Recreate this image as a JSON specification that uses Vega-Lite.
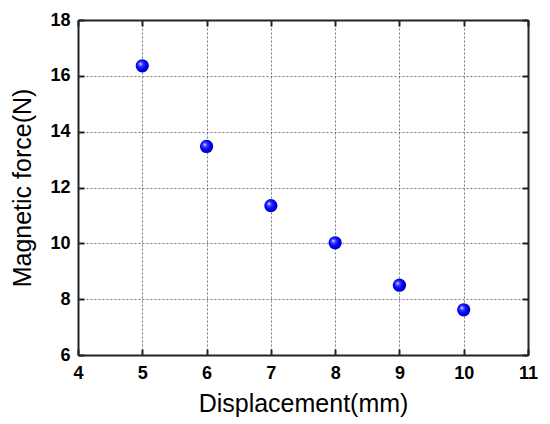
{
  "$schema": "https://vega.github.io/schema/vega-lite/v6.json",
  "width": 450,
  "height": 335,
  "autosize": {"type": "none"},
  "padding": {"left": 78, "top": 20, "right": 22, "bottom": 69},
  "background": "white",
  "config": {
    "view": {"stroke": null},
    "font": "Liberation Sans",
    "axis": {
      "labelFont": "Liberation Sans",
      "labelFontSize": 18,
      "labelFontWeight": "bold",
      "labelColor": "black",
      "titleFont": "Liberation Sans",
      "titleFontWeight": "normal",
      "titleColor": "black",
      "domainColor": "#222222",
      "domainWidth": 2,
      "tickColor": "#222222",
      "tickWidth": 2,
      "tickSize": -6,
      "gridColor": "#777777",
      "gridDash": [2, 2],
      "gridWidth": 1,
      "labelFlush": false
    }
  },
  "data": {
    "values": [
      {"displacement": 5, "force": 16.36},
      {"displacement": 6, "force": 13.47},
      {"displacement": 7, "force": 11.35},
      {"displacement": 8, "force": 10.02},
      {"displacement": 9, "force": 8.5},
      {"displacement": 10, "force": 7.62}
    ]
  },
  "layer": [
    {
      "mark": {
        "type": "point",
        "filled": true,
        "shape": "circle",
        "size": 175,
        "opacity": 1,
        "color": {
          "gradient": "radial",
          "x1": 0.35, "y1": 0.35, "r1": 0,
          "x2": 0.45, "y2": 0.45, "r2": 0.6,
          "stops": [
            {"offset": 0, "color": "#ffffff"},
            {"offset": 0.25, "color": "#4040ff"},
            {"offset": 0.6, "color": "#0000ff"},
            {"offset": 1, "color": "#0000a0"}
          ]
        }
      },
      "encoding": {
        "x": {
          "field": "displacement",
          "type": "quantitative",
          "scale": {"domain": [4, 11], "nice": false, "zero": false},
          "axis": {
            "title": "Displacement(mm)",
            "values": [4, 5, 6, 7, 8, 9, 10, 11],
            "grid": true,
            "labelPadding": 15,
            "titleFontSize": 25,
            "titlePadding": 9
          }
        },
        "y": {
          "field": "force",
          "type": "quantitative",
          "scale": {"domain": [6, 18], "nice": false, "zero": false},
          "axis": {
            "title": "Magnetic force(N)",
            "values": [6, 8, 10, 12, 14, 16, 18],
            "grid": true,
            "labelPadding": 14,
            "titleFontSize": 25,
            "titlePadding": 14
          }
        }
      }
    },
    {
      "mark": {"type": "rule", "opacity": 0},
      "encoding": {
        "x": {
          "datum": 4,
          "type": "quantitative",
          "axis": {
            "orient": "top",
            "title": null,
            "labels": false,
            "grid": false,
            "values": [4, 5, 6, 7, 8, 9, 10, 11]
          }
        },
        "y": {
          "datum": 6,
          "type": "quantitative",
          "axis": {
            "orient": "right",
            "title": null,
            "labels": false,
            "grid": false,
            "values": [6, 8, 10, 12, 14, 16, 18]
          }
        }
      }
    }
  ],
  "resolve": {"axis": {"x": "independent", "y": "independent"}}
}
